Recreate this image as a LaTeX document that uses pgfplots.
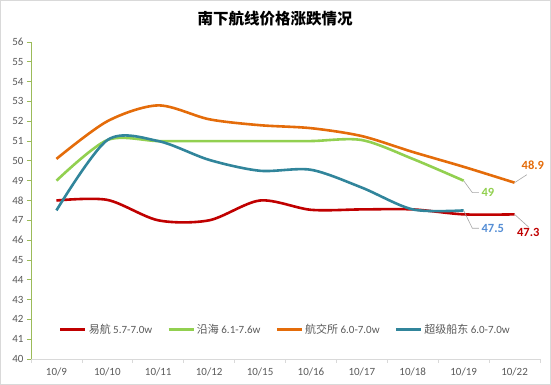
\documentclass[border=0pt]{standalone}
\usepackage{pgfplots}
\pgfplotsset{compat=1.18}
\usepackage{fontspec}
\setmainfont{Carlito}
\newfontfamily\cjk{Noto Sans CJK SC}
\definecolor{cred}{RGB}{192,0,0}
\definecolor{cgreen}{RGB}{146,208,80}
\definecolor{corange}{RGB}{228,108,10}
\definecolor{cteal}{RGB}{49,133,155}
\definecolor{cblue}{RGB}{85,142,213}
\definecolor{axgreen}{RGB}{155,187,89}
\definecolor{tickgray}{RGB}{89,89,89}
\definecolor{bordergray}{RGB}{217,217,217}
\definecolor{leadgray}{RGB}{166,166,166}
\begin{document}
\begin{tikzpicture}[x=1pt,y=1pt]
\path (0,0) rectangle (551,385);
\draw[bordergray, line width=1pt] (0.5,0.5) rectangle (550.5,384.5);
\node[font=\cjk\bfseries\fontsize{15.5}{18}\selectfont] at (275,366) {南下航线价格涨跌情况};
\begin{axis}[
  at={(31pt,26pt)}, anchor=south west, scale only axis,
  width=509pt, height=317pt,
  xmin=-0.5, xmax=9.5, ymin=40, ymax=56,
  ytick={40,...,56},
  xtick={0,...,9},
  xticklabels={10/9,10/10,10/11,10/12,10/15,10/16,10/17,10/18,10/19,10/22},
  minor xtick={-0.5,0.5,...,9.5},
  axis x line*=bottom, axis y line*=left,
  x axis line style={-, draw=bordergray, line width=0.8pt},
  y axis line style={-, draw=axgreen, line width=0.8pt},
  tick align=outside,
  major tick length=4pt, minor tick length=4pt,
  major x tick style={draw=none},
  minor x tick style={draw=bordergray, line width=0.8pt},
  y tick style={draw=axgreen, line width=0.8pt},
  tick label style={font=\fontsize{11}{13}\selectfont, text=tickgray},
  xticklabel style={yshift=-1pt},
  /pgf/number format/assume math mode=true,
  clip=false,
  legend style={at={(0.5,0.094)}, anchor=center, draw=none, fill=none,
    legend columns=4, font=\fontsize{11}{13}\selectfont, text=tickgray,
    /tikz/every even column/.append style={column sep=13pt},
    nodes={inner sep=2pt}},
  legend image code/.code={\draw[#1, line width=2.6pt] (0pt,0pt) -- (25pt,0pt);},
  every axis plot/.append style={line width=2.6pt, no marks, smooth, tension=0.5},
]
\addplot[cred] coordinates {(0,48.0) (1,48.03) (2,47.0) (3,47.0) (4,48.0) (5,47.53) (6,47.55) (7,47.55) (8,47.3) (9,47.3)};
\addlegendentry{{\cjk 易航} 5.7-7.0w}
\addplot[cgreen] coordinates {(0,49.0) (1,51.05) (2,51.0) (3,51.0) (4,51.0) (5,51.0) (6,51.05) (7,50.1) (8,49.0)};
\addlegendentry{{\cjk 沿海} 6.1-7.6w}
\addplot[corange] coordinates {(0,50.1) (1,52.0) (2,52.8) (3,52.1) (4,51.8) (5,51.65) (6,51.25) (7,50.45) (8,49.7) (9,48.9)};
\addlegendentry{{\cjk 航交所} 6.0-7.0w}
\addplot[cteal] coordinates {(0,47.5) (1,51.05) (2,51.0) (3,50.05) (4,49.5) (5,49.55) (6,48.65) (7,47.55) (8,47.5)};
\addlegendentry{{\cjk 超级船东} 6.0-7.0w}
\draw[leadgray, line width=0.6pt] (axis cs:9,48.9) -- (axis cs:9.24,49.3);
\node[font=\bfseries\fontsize{12.5}{14}\selectfont, text=corange] at (axis cs:9.36,49.79) {48.9};
\draw[leadgray, line width=0.6pt] (axis cs:8,49) -- (axis cs:8.17,48.4) -- (axis cs:8.3,48.4);
\node[font=\bfseries\fontsize{12.5}{14}\selectfont, text=cgreen, anchor=west, inner sep=1pt] at (axis cs:8.33,48.4) {49};
\draw[leadgray, line width=0.6pt] (axis cs:8,47.5) -- (axis cs:8.17,46.6) -- (axis cs:8.3,46.6);
\node[font=\bfseries\fontsize{12.5}{14}\selectfont, text=cblue, anchor=west, inner sep=1pt] at (axis cs:8.33,46.6) {47.5};
\draw[leadgray, line width=0.6pt] (axis cs:9,47.3) -- (axis cs:9.28,46.65);
\node[font=\bfseries\fontsize{12.5}{14}\selectfont, text=cred] at (axis cs:9.27,46.37) {47.3};
\end{axis}
\end{tikzpicture}
\end{document}
